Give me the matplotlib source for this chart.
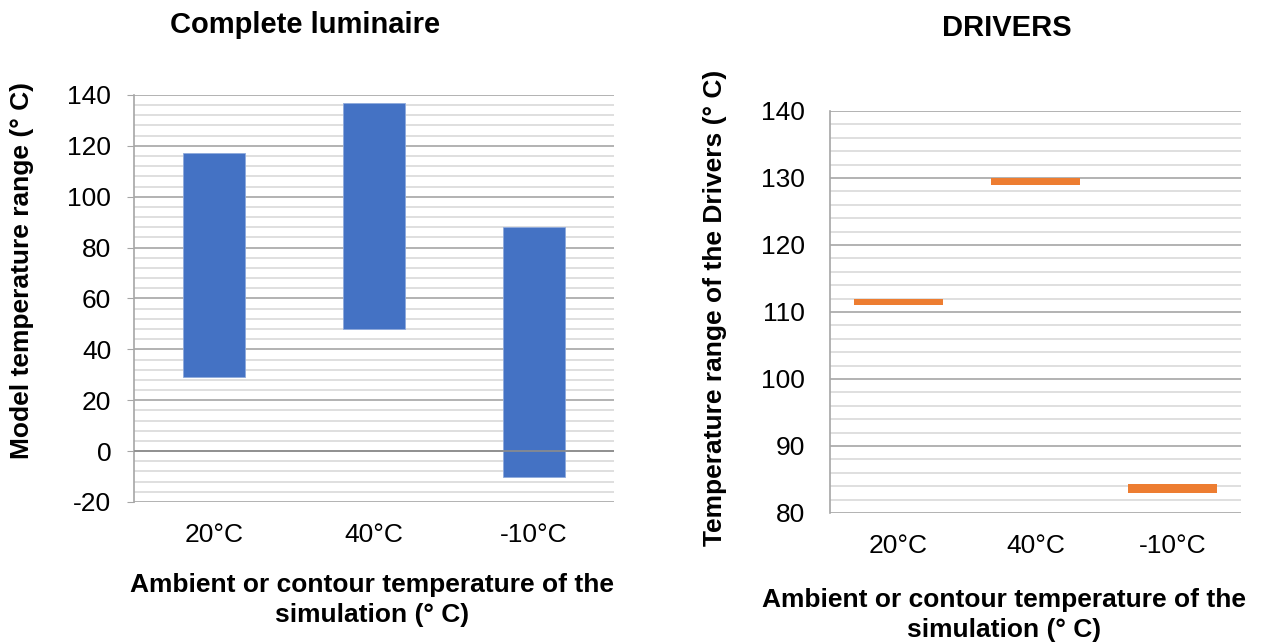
import matplotlib.pyplot as plt
import numpy as np
from matplotlib.ticker import MultipleLocator

plt.rcParams['font.family'] = ['Liberation Sans', 'DejaVu Sans']
plt.rcParams['axes.unicode_minus'] = False

# Ambient temperatures of the simulations
categories = ['20°C', '40°C', '-10°C']

# Complete luminaire: min / max model temperature
lum_min = [29, 48, -10]
lum_max = [117, 137, 88]

# Drivers: min / max temperature
drv_min = [111, 129, 83]
drv_max = [112, 130, 84.4]

blue = '#4472C4'
orange = '#ED7D31'
major_grid = '#a6a6a6'
minor_grid = '#d9d9d9'

fig = plt.figure(figsize=(12.61, 6.43), dpi=100)
ax1 = fig.add_axes((0.1063, 0.2193, 0.3806, 0.633))
ax2 = fig.add_axes((0.6582, 0.2022, 0.3259, 0.6252))


def style_axis(ax, lo, hi, major, minor, ticklen, pad):
    ax.set_ylim(lo, hi)
    ax.yaxis.set_major_locator(MultipleLocator(major))
    ax.yaxis.set_minor_locator(MultipleLocator(minor))
    ax.grid(which='major', axis='y', color=major_grid, lw=1.2, zorder=0)
    ax.grid(which='minor', axis='y', color=minor_grid, lw=1.2, zorder=0)
    ax.set_axisbelow(True)
    for s in ['top', 'right', 'bottom']:
        ax.spines[s].set_visible(False)
    ax.spines['left'].set_color(major_grid)
    ax.spines['left'].set_linewidth(1.2)
    ax.tick_params(axis='y', which='major', length=ticklen, color=major_grid,
                   labelsize=19, pad=pad)
    ax.tick_params(axis='y', which='minor', length=0)
    ax.tick_params(axis='x', length=0, labelsize=19, pad=15)
    ax.set_xlim(-0.5, len(categories) - 0.5)
    ax.set_xticks(np.arange(len(categories)))
    ax.set_xticklabels(categories)


x = np.arange(len(categories))

# Left chart: floating range bars
style_axis(ax1, -20, 140, 20, 4, 5, 11.5)
ax1.bar(x, np.array(lum_max) - np.array(lum_min), bottom=lum_min, width=0.39,
        color=blue, edgecolor='#8faadc', linewidth=0.6, zorder=2)
ax1.axhline(0, color='#8c8c8c', lw=1.2, zorder=3)

# Right chart: narrow range bars
style_axis(ax2, 80, 140, 10, 2, 0, 18)
ax2.bar(x, np.array(drv_max) - np.array(drv_min), bottom=drv_min, width=0.65,
        color=orange, linewidth=0, zorder=2)

# Titles and axis labels
xlabel = 'Ambient or contour temperature of the\nsimulation (° C)'
fig.text(305 / 1261, 1 - 25 / 643, 'Complete luminaire', ha='center', va='center',
         fontsize=21, fontweight='bold')
fig.text(1007 / 1261, 1 - 28 / 643, 'DRIVERS', ha='center', va='center',
         fontsize=21, fontweight='bold')
fig.text(372 / 1261, 1 - 600 / 643, xlabel,
         ha='center', va='center', fontsize=19, fontweight='bold', linespacing=1.36)
fig.text(1004 / 1261, 1 - 615 / 643, xlabel,
         ha='center', va='center', fontsize=19, fontweight='bold', linespacing=1.36)
fig.text(22 / 1261, 1 - 271 / 643, 'Model temperature range (° C)', rotation=90,
         ha='center', va='center', fontsize=19, fontweight='bold')
fig.text(715 / 1261, 1 - 308 / 643, 'Temperature range of the Drivers (° C)', rotation=90,
         ha='center', va='center', fontsize=19, fontweight='bold')

fig.savefig('out.png', dpi=100, facecolor='white')
